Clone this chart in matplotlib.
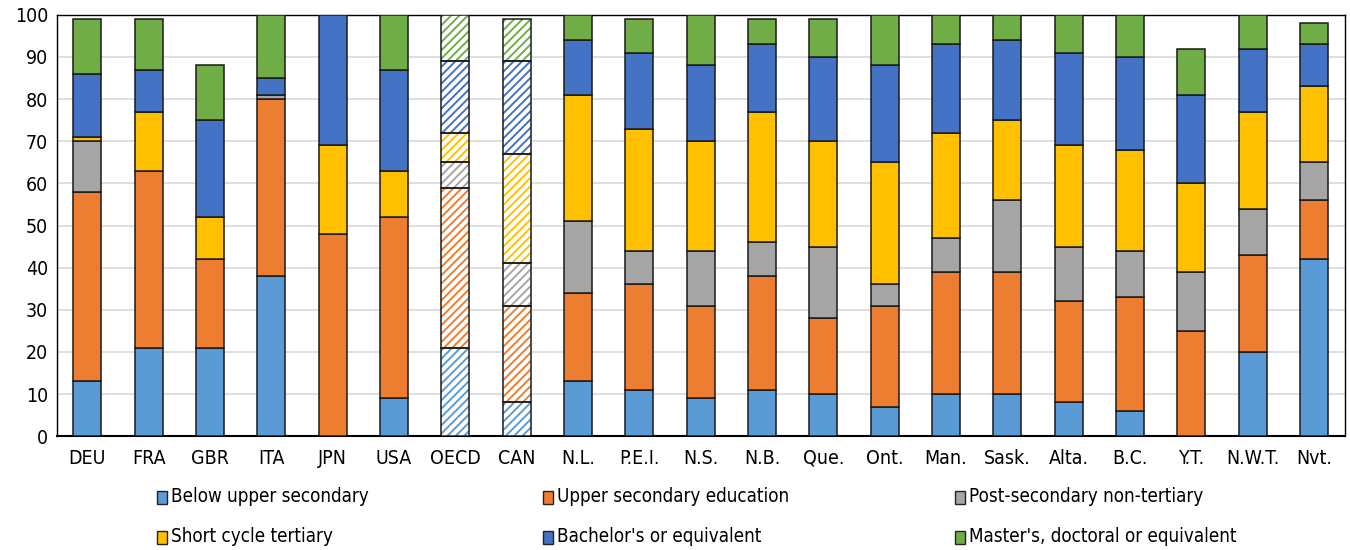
import matplotlib
matplotlib.use("Agg")
import matplotlib.pyplot as plt
import numpy as np
from matplotlib.patches import Rectangle
from matplotlib import font_manager
from matplotlib.font_manager import FontProperties

categories = ["DEU", "FRA", "GBR", "ITA", "JPN", "USA", "OECD", "CAN", "N.L.", "P.E.I.",
              "N.S.", "N.B.", "Que.", "Ont.", "Man.", "Sask.", "Alta.", "B.C.", "Y.T.",
              "N.W.T.", "Nvt."]
below_upper_secondary = [13, 21, 21, 38, 0, 9, 21, 8, 13, 11, 9, 11, 10, 7, 10, 10, 8, 6, 0, 20, 42]
upper_secondary = [45, 42, 21, 42, 48, 43, 38, 23, 21, 25, 22, 27, 18, 24, 29, 29, 24, 27, 25, 23, 14]
post_secondary_non_tertiary = [12, 0, 0, 1, 0, 0, 6, 10, 17, 8, 13, 8, 17, 5, 8, 17, 13, 11, 14, 11, 9]
short_cycle_tertiary = [1, 14, 10, 0, 21, 11, 7, 26, 30, 29, 26, 31, 25, 29, 25, 19, 24, 24, 21, 23, 18]
bachelors = [15, 10, 23, 4, 31, 24, 17, 22, 13, 18, 18, 16, 20, 23, 21, 19, 22, 22, 21, 15, 10]
masters_doctoral = [13, 12, 13, 15, 0, 13, 11, 10, 6, 8, 12, 6, 9, 12, 7, 6, 9, 10, 11, 8, 5]
hatched_categories = ["OECD", "CAN"]

series_labels = ["Below upper secondary", "Upper secondary education", "Post-secondary non-tertiary",
                 "Short cycle tertiary", "Bachelor's or equivalent", "Master's, doctoral or equivalent"]
colors = ["#5B9BD5", "#ED7D31", "#A5A5A5", "#FFC000", "#4472C4", "#70AD47"]

# find a narrow/condensed font file
fpath = None
files = [f.fname for f in font_manager.fontManager.ttflist]
for key in ["LiberationSansNarrow-Regular", "DejaVuSansCondensed.ttf", "Condensed-Regular", "Narrow"]:
    for fn in files:
        if key in fn and "Bold" not in fn and "Italic" not in fn and "Oblique" not in fn:
            fpath = fn
            break
    if fpath:
        break
if fpath:
    fp = FontProperties(fname=fpath, size=14)
else:
    fp = FontProperties(family="DejaVu Sans", size=12.5)
fp_leg = fp.copy()
fp_leg.set_size(13.5 if fpath else 12.5)

plt.rcParams["hatch.linewidth"] = 1.4

fig = plt.figure(figsize=(13.5, 5.5), dpi=100)
ax = fig.add_axes([0.042, 0.207, 0.954, 0.766])

series = [below_upper_secondary, upper_secondary, post_secondary_non_tertiary,
          short_cycle_tertiary, bachelors, masters_doctoral]
x = np.arange(len(categories))
width = 0.46
bottom = np.zeros(len(categories))
hatched = np.array([c in hatched_categories for c in categories])
for vals, col in zip(series, colors):
    v = np.array(vals, dtype=float)
    for i in range(len(categories)):
        if v[i] <= 0:
            continue
        if hatched[i]:
            ax.bar(x[i], v[i], width, bottom=bottom[i], facecolor="white", edgecolor=col,
                   hatch="////", linewidth=0, zorder=3)
            ax.bar(x[i], v[i], width, bottom=bottom[i], fill=False, edgecolor="#1a1a1a",
                   linewidth=1.1, zorder=4)
        else:
            ax.bar(x[i], v[i], width, bottom=bottom[i], color=col, edgecolor="#1a1a1a",
                   linewidth=1.1, zorder=3)
    bottom += v

ax.set_xlim(-0.5, len(categories) - 0.5)
ax.set_ylim(0, 100)
ax.set_yticks(np.arange(0, 101, 10))
ax.set_xticks(x)
ax.set_xticklabels(categories)
for lab in ax.get_xticklabels() + ax.get_yticklabels():
    lab.set_fontproperties(fp)
ax.tick_params(axis="both", length=0, colors="black")
ax.tick_params(axis="x", pad=9)
ax.tick_params(axis="y", pad=6)
ax.yaxis.grid(True, color="#D9D9D9", linewidth=1.2, zorder=0)
ax.set_axisbelow(True)
for s in ax.spines.values():
    s.set_color("black")
    s.set_linewidth(1.0)
ax.spines["bottom"].set_linewidth(1.5)

# legend: 2 rows x 3 columns, row-wise order
W, H = 1350.0, 550.0
col_x = [157, 543, 955]
row_y = [497, 537]
for k, (lab, col) in enumerate(zip(series_labels, colors)):
    r, c = divmod(k, 3)
    px, py = col_x[c], row_y[r]
    fig.add_artist(Rectangle((px / W, 1 - (py + 6.5) / H), 10 / W, 13 / H,
                             facecolor=col, edgecolor="#222222", linewidth=1.0,
                             transform=fig.transFigure))
    fig.text((px + 14) / W, 1 - py / H, lab, fontproperties=fp_leg, va="center", ha="left")

fig.savefig("out.png", dpi=100)
